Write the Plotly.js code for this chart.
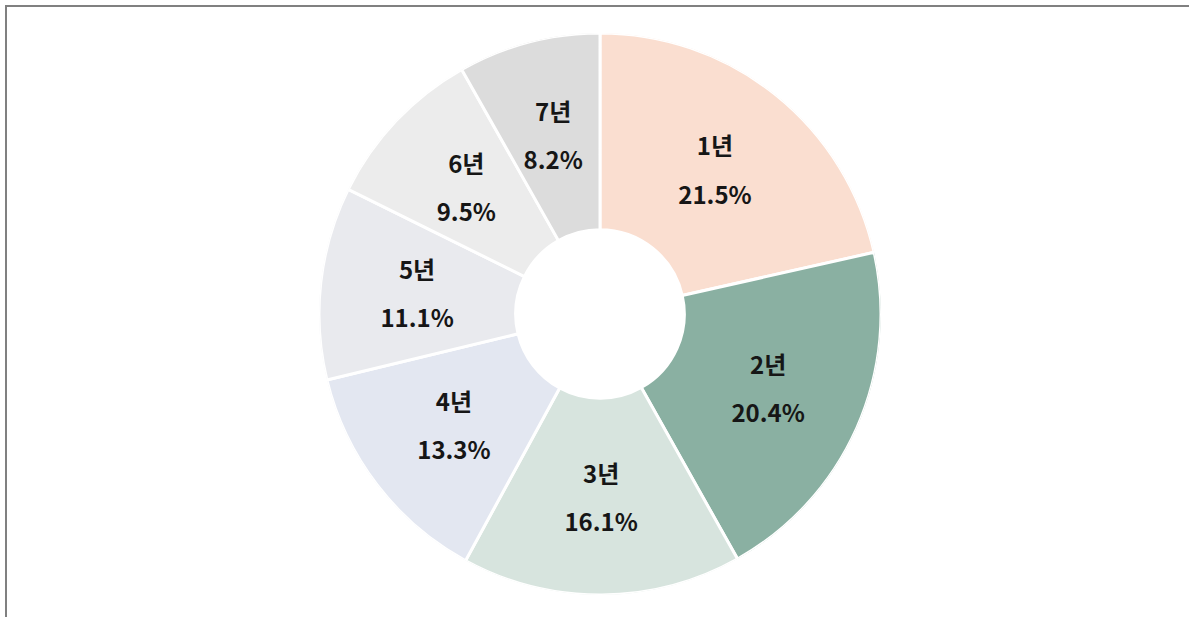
<!DOCTYPE html>
<html>
<head>
<meta charset="utf-8">
<script src="https://cdn.plot.ly/plotly-3.0.1.min.js"></script>
<style>
  html, body { margin: 0; padding: 0; background: #ffffff; overflow: hidden; }
  #frame { position: absolute; left: 5px; top: 5px; width: 1300px; height: 700px;
           border-left: 2px solid #808080; border-top: 2px solid #808080; pointer-events: none; }
  #chart { position: absolute; left: 0; top: 0; width: 1189px; height: 617px; }
</style>
</head>
<body>
<div id="chart"></div>
<div id="frame"></div>
<script>
const categories = ['1년', '2년', '3년', '4년', '5년', '6년', '7년'];
const shares = [21.5, 20.4, 16.1, 13.3, 11.1, 9.5, 8.2];
const sliceColors = ['#FADED0', '#8AB0A2', '#D7E4DE', '#E3E7F1', '#E9EAEE', '#ECECEC', '#DCDCDC'];

// angular extent and mid-angle of each slice (degrees, clockwise from 12 o'clock), derived from the data
const total = shares.reduce((a, b) => a + b, 0);
const widths = shares.map(v => v / total * 360);
let cum = 0;
const midAngles = widths.map(w => { const m = cum + w / 2; cum += w; return m; });
const labelText = categories.map((c, i) =>
  "<span style='font-size:24px'><b>" + c + "</b></span><br><span style='font-size:24px'><b>" +
  shares[i].toFixed(1) + "%</b></span>");

const HOLE = 0.30;

const ringTrace = {
  type: 'barpolar',
  theta: midAngles,
  width: widths,
  base: categories.map(() => HOLE),
  r: categories.map(() => 1 - HOLE),
  marker: { color: sliceColors, line: { color: '#ffffff', width: 3 } },
  hoverinfo: 'none',
  showlegend: false
};

const labelTrace = {
  type: 'scatterpolar',
  mode: 'text',
  r: categories.map(() => 0.655),
  theta: midAngles,
  text: labelText,
  textposition: 'middle center',
  textfont: { family: 'Noto Sans CJK KR, sans-serif', size: 37, color: '#161616' },
  hoverinfo: 'none',
  showlegend: false,
  cliponaxis: false
};

const layout = {
  width: 1189,
  height: 617,
  margin: { l: 11, r: 0, t: 33, b: 22 },
  paper_bgcolor: '#ffffff',
  plot_bgcolor: '#ffffff',
  showlegend: false,
  polar: {
    domain: { x: [0, 1], y: [0, 1] },
    bgcolor: 'rgba(0,0,0,0)',
    bargap: 0,
    angularaxis: { rotation: 90, direction: 'clockwise', visible: false, showgrid: false, showline: false, showticklabels: false, ticks: '' },
    radialaxis: { range: [0, 1], visible: false, showgrid: false, showline: false, showticklabels: false, ticks: '' }
  }
};

Plotly.newPlot('chart', [ringTrace, labelTrace], layout, { displayModeBar: false, staticPlot: true });
</script>
</body>
</html>
